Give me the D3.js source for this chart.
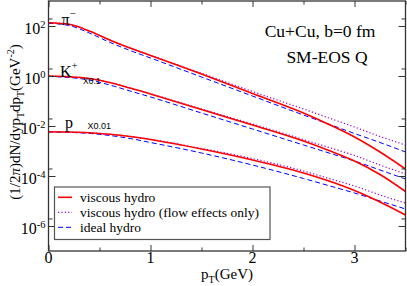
<!DOCTYPE html>
<html><head><meta charset="utf-8">
<script src="https://cdn.jsdelivr.net/npm/d3@7"></script>
<style>body{margin:0;background:#fff} svg{display:block}</style>
</head><body><svg id="c" width="407" height="286"></svg>
<script>
// transverse momentum grid (GeV)
const pt = [0, 0.2, 0.4, 0.6, 0.8, 1.0, 1.5, 2.0, 2.5, 2.75, 3.0, 3.25, 3.5];
// pi- spectra
const pionViscous = [135.5, 117, 63.1, 27.5, 13.2, 6.61, 1.20, 0.200, 0.0331, 0.0115, 3.63e-3, 9.12e-4, 1.91e-4];
const pionFlowOnly = [135.5, 117, 63.1, 27.5, 13.2, 6.73, 1.28, 0.240, 0.0479, 0.0209, 9.12e-3, 3.80e-3, 1.74e-3];
const pionIdeal = [128, 105, 52.5, 22.3, 10.5, 5.25, 0.912, 0.158, 0.0275, 0.0118, 5.01e-3, 2.19e-3, 9.12e-4];
// K+ spectra (plotted x0.1)
const kaonViscous = [1.00, 0.938, 0.794, 0.550, 0.331, 0.191, 0.0457, 0.0110, 2.51e-3, 1.05e-3, 3.98e-4, 1.15e-4, 2.40e-5];
const kaonFlowOnly = [1.00, 0.938, 0.794, 0.550, 0.331, 0.194, 0.0479, 0.0120, 2.88e-3, 1.38e-3, 6.61e-4, 2.75e-4, 1.20e-4];
const kaonIdeal = [0.955, 0.871, 0.692, 0.437, 0.251, 0.145, 0.0331, 7.59e-3, 1.74e-3, 8.32e-4, 3.98e-4, 1.74e-4, 7.59e-5];
// proton spectra (plotted x0.01)
const protonViscous = [5.92e-3, 5.75e-3, 5.35e-3, 4.66e-3, 3.80e-3, 2.88e-3, 1.20e-3, 4.37e-4, 1.32e-4, 6.31e-5, 2.63e-5, 9.12e-6, 2.75e-6];
const protonFlowOnly = [5.92e-3, 5.75e-3, 5.35e-3, 4.66e-3, 3.80e-3, 2.94e-3, 1.26e-3, 5.01e-4, 1.58e-4, 7.94e-5, 3.98e-5, 1.74e-5, 8.32e-6];
const protonIdeal = [5.75e-3, 5.55e-3, 5.06e-3, 4.17e-3, 3.16e-3, 2.19e-3, 8.32e-4, 2.75e-4, 7.94e-5, 4.09e-5, 2.09e-5, 1.0e-5, 4.79e-6];

const xTicks = [0, 1, 2, 3];
const xMinorTicks = [0.5, 1.5, 2.5, 3.5];
const yTicks = [1e2, 1, 1e-2, 1e-4, 1e-6];
const yTickExponents = ["2", "0", "-2", "-4", "-6"];
const yMinorTicks = [2e2, 2, 2e-2, 2e-4, 2e-6];
const legendLabels = ["viscous hydro", "viscous hydro (flow effects only)", "ideal hydro"];
const speciesLabels = ["\u03c0", "K", "p"];
const speciesCharges = ["\u2212", "+", ""];
const scaleLabels = ["", "X0.1", "X0.01"];

const serif = "'Liberation Serif','Times New Roman',serif";
const sans = "'Liberation Sans',Arial,sans-serif";
const styles = [
  {color: "#ff0000", width: 1.6, dash: null},
  {color: "#9400d3", width: 1.2, dash: "1.2,2.2"},
  {color: "#0000ff", width: 1.0, dash: "5,3"}
];

const svg = d3.select("#c");
const L = 48.5, R = 405.5, T = 1, B = 251;
const x = d3.scaleLinear().domain([0, 3.5]).range([L, R]);
const y = d3.scaleLog().domain([1e-7, 1e3]).range([B, T]);

const line = d3.line().x(d => x(d[0])).y(d => y(d[1])).curve(d3.curveMonotoneX);
function draw(vals, st) {
  svg.append("path").datum(pt.map((p, i) => [p, vals[i]]))
    .attr("d", line).attr("fill", "none")
    .attr("stroke", st.color).attr("stroke-width", st.width)
    .attr("stroke-dasharray", st.dash);
}
// flow-only, ideal, viscous (viscous on top)
[[pionFlowOnly, pionIdeal, pionViscous], [kaonFlowOnly, kaonIdeal, kaonViscous], [protonFlowOnly, protonIdeal, protonViscous]]
  .forEach(g => { draw(g[0], styles[1]); draw(g[1], styles[2]); draw(g[2], styles[0]); });

// axes ticks (inward, mirrored)
function styleAxis(g) {
  g.select(".domain").remove();
  g.selectAll("line").attr("stroke", "#333").attr("stroke-width", 1);
  g.selectAll("text").remove();
}
svg.append("g").attr("transform", `translate(0,${B})`).call(d3.axisBottom(x).tickValues(xTicks).tickSize(-6)).call(styleAxis);
svg.append("g").attr("transform", `translate(0,${B})`).call(d3.axisBottom(x).tickValues(xMinorTicks).tickSize(-3.5)).call(styleAxis);
svg.append("g").attr("transform", `translate(0,${T})`).call(d3.axisTop(x).tickValues(xTicks).tickSize(-6)).call(styleAxis);
svg.append("g").attr("transform", `translate(0,${T})`).call(d3.axisTop(x).tickValues(xMinorTicks).tickSize(-3.5)).call(styleAxis);
svg.append("g").attr("transform", `translate(${L},0)`).call(d3.axisLeft(y).tickValues(yTicks).tickSize(-7)).call(styleAxis);
svg.append("g").attr("transform", `translate(${L},0)`).call(d3.axisLeft(y).tickValues(yMinorTicks).tickSize(-4)).call(styleAxis);
svg.append("g").attr("transform", `translate(${R},0)`).call(d3.axisRight(y).tickValues(yTicks).tickSize(-7)).call(styleAxis);
svg.append("g").attr("transform", `translate(${R},0)`).call(d3.axisRight(y).tickValues(yMinorTicks).tickSize(-4)).call(styleAxis);

// frame
svg.append("rect").attr("x", L).attr("y", T).attr("width", R - L).attr("height", B - T)
  .attr("fill", "none").attr("stroke", "#333").attr("stroke-width", 1.3);

// x tick labels
xTicks.forEach(v => {
  svg.append("text").attr("x", x(v)).attr("y", 263).attr("text-anchor", "middle")
    .attr("font-family", serif).attr("font-size", 16).text(v);
});
// y tick labels
yTicks.forEach((v, i) => {
  const t = svg.append("text").attr("x", 45.5).attr("y", y(v) + 8).attr("text-anchor", "end")
    .attr("font-family", serif).attr("font-size", 16);
  t.append("tspan").text("10");
  t.append("tspan").attr("dy", -6.5).attr("font-size", 10.5).text(yTickExponents[i]);
});

// x title
{
  const t = svg.append("text").attr("x", (L + R) / 2).attr("y", 279).attr("text-anchor", "middle")
    .attr("font-family", serif).attr("font-size", 15);
  t.append("tspan").text("p");
  t.append("tspan").attr("dy", 3.5).attr("font-size", 10).text("T");
  t.append("tspan").attr("dy", -3.5).text("(GeV)");
}
// y title
{
  const t = svg.append("text").attr("transform", "translate(20,122) rotate(-90)")
    .attr("text-anchor", "middle").attr("font-family", serif).attr("font-size", 15);
  t.append("tspan").text("(1/2");
  t.append("tspan").attr("font-style", "italic").text("\u03c0");
  t.append("tspan").text(")dN/dyp");
  t.append("tspan").attr("dy", 3.5).attr("font-size", 10).text("T");
  t.append("tspan").attr("dy", -3.5).text("dp");
  t.append("tspan").attr("dy", 3.5).attr("font-size", 10).text("T");
  t.append("tspan").attr("dy", -3.5).text("(GeV");
  t.append("tspan").attr("dy", -6).attr("font-size", 10).text("-2");
  t.append("tspan").attr("dy", 6).text(")");
}

// annotations
svg.append("text").attr("x", 320).attr("y", 37).attr("text-anchor", "middle")
  .attr("font-family", serif).attr("font-size", 17.5).text("Cu+Cu, b=0 fm");
svg.append("text").attr("x", 327).attr("y", 62.5).attr("text-anchor", "middle")
  .attr("font-family", serif).attr("font-size", 17.5).text("SM-EOS Q");

// species labels
const labelPos = [[61.5, 25], [60, 76.5], [65, 128]];
const scalePos = [[0, 0], [83, 83.5], [87.5, 129]];
speciesLabels.forEach((s, i) => {
  const t = svg.append("text").attr("x", labelPos[i][0]).attr("y", labelPos[i][1])
    .attr("font-family", serif).attr("font-size", 16);
  t.append("tspan").text(s);
  if (speciesCharges[i]) t.append("tspan").attr("dy", -8).attr("font-size", 11).text(speciesCharges[i]);
  if (scaleLabels[i]) svg.append("text").attr("x", scalePos[i][0]).attr("y", scalePos[i][1])
    .attr("font-family", sans).attr("font-size", i === 1 ? 8.5 : 9).text(scaleLabels[i]);
});

// legend
const lg = svg.append("g");
lg.append("rect").attr("x", 54.5).attr("y", 187).attr("width", 215.5).attr("height", 52.5)
  .attr("fill", "#fff").attr("stroke", "#555").attr("stroke-width", 1.2);
legendLabels.forEach((lab, i) => {
  const yy = 197.3 + i * 15;
  const st = styles[i];
  lg.append("line").attr("x1", 58).attr("x2", 72).attr("y1", yy).attr("y2", yy)
    .attr("stroke", st.color).attr("stroke-width", st.width).attr("stroke-dasharray", st.dash);
  lg.append("text").attr("x", 80).attr("y", yy + 4.5).attr("font-family", serif)
    .attr("font-size", 13.5).text(lab);
});
</script></body></html>
